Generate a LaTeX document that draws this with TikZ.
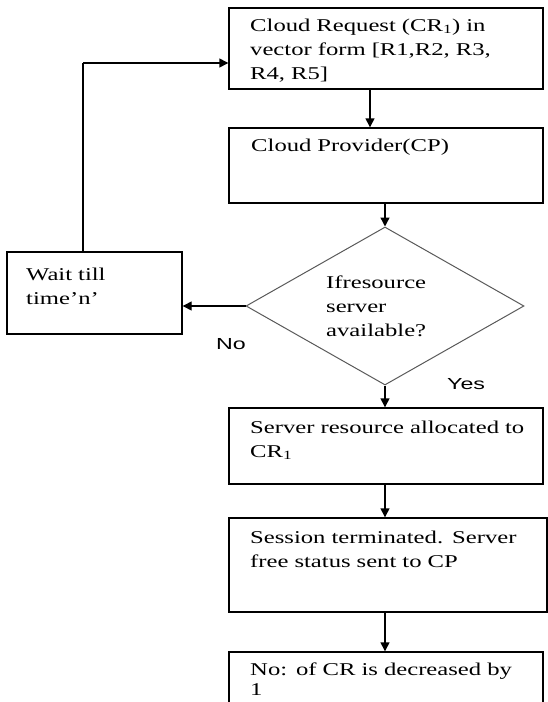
\documentclass[tikz,border=0pt]{standalone}
\usepackage{fontspec}
\setmainfont[FakeStretch=1.37]{Liberation Serif}
\newfontfamily\lsans[FakeStretch=1.45]{Liberation Sans}
\usetikzlibrary{arrows.meta,shapes.geometric}
\begin{document}
\begin{tikzpicture}[x=1pt,y=-1pt,
  boxst/.style={draw=black,line width=1.4pt,rectangle,inner sep=0pt},
  txt/.style={anchor=base west,inner sep=0pt,text width=300pt,align=left,
    font=\fontsize{18}{24}\selectfont},
  lab/.style={anchor=base west,inner sep=0pt,font=\lsans\fontsize{16}{18}\selectfont},
  arr/.style={draw=black,line width=1.4pt,-{Triangle[length=9pt,width=9pt]}},
  ln/.style={draw=black,line width=1.4pt}]
\path[use as bounding box] (0,0) rectangle (548,702);
\clip (0,0) rectangle (548,702);
% boxes
\node[boxst,minimum width=314pt,minimum height=81pt] (box1) at (386,48.5) {};
\node[boxst,minimum width=314pt,minimum height=75pt] (box2) at (386,165.5) {};
\node[boxst,minimum width=175pt,minimum height=82pt] (wait) at (94.5,293) {};
\node[draw=black!65,line width=1pt,diamond,inner sep=0pt,minimum width=278pt,minimum height=158pt] (dia) at (385,306) {};
\node[boxst,minimum width=314pt,minimum height=76pt] (box4) at (386,446) {};
\node[boxst,minimum width=318pt,minimum height=94pt] (box5) at (388,565) {};
\node[boxst,minimum width=314pt,minimum height=80pt] (box6) at (386,692) {};
% texts
\node[txt] (t1) at (250,31) {Cloud Request (CR\textsubscript{1}) in\\vector form [R1,R2, R3,\\R4, R5]};
\node[txt] (t2) at (251,151) {Cloud Provider(CP)};
\node[txt,text width=160pt] (tw) at (26,280) {Wait till\\time’n’};
\node[txt,text width=200pt] (td) at (326,288) {Ifresource\\server\\available?};
\node[txt] (t4) at (250,433) {Server resource allocated to\\CR\textsubscript{1}};
\node[txt] (t5) at (250,543) {Session terminated. Server\\free status sent to CP};
\node[txt,font=\fontsize{18}{20}\selectfont] (t6) at (250,675) {No: of CR is decreased by\\1};
\node[lab] (no) at (216,349) {No};
\node[lab] (yes) at (447,389) {Yes};
% connectors
\coordinate (c1) at (370,0);
\coordinate (fb) at (83,63);
\draw[arr] (c1 |- box1.south) -- (c1 |- box2.north);
\draw[arr] (dia.north |- box2.south) -- (dia.north);
\draw[arr] (dia.west) -- (dia.west -| wait.east);
\draw[ln] (fb |- wait.north) -- (fb);
\draw[arr] (fb) -- (fb -| box1.west);
\draw[arr] (dia.south) -- (dia.south |- box4.north);
\draw[arr] (dia.south |- box4.south) -- (dia.south |- box5.north);
\draw[arr] (dia.south |- box5.south) -- (dia.south |- box6.north);
\end{tikzpicture}
\end{document}
